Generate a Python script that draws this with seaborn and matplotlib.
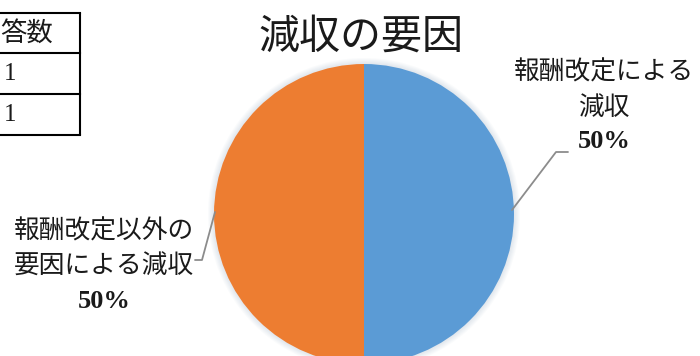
import matplotlib
matplotlib.use("Agg")
import matplotlib.pyplot as plt
import seaborn as sns
from matplotlib.patches import Circle

sns.set_theme(style="white")
plt.rcParams["font.family"] = ["Noto Sans CJK JP", "DejaVu Sans"]

# Data
title = "減収の要因"
categories = ["報酬改定による\n減収", "報酬改定以外の\n要因による減収"]
counts = [1, 1]
table_header = "答数"
slice_colors = sns.color_palette(["#5B9BD5", "#ED7D31"])

W, H = 700, 356
fig = plt.figure(figsize=(W / 100, H / 100), dpi=100)
ax = fig.add_axes([0, 0, 1, 1])


def Y(y):
    """Convert a top-down pixel row into the axis' bottom-up coordinate."""
    return H - y


cx, cy, r = 364, 214, 150

# soft glow around the pie
for k in range(6, 0, -1):
    ax.add_patch(Circle((cx, Y(cy)), r + k, color="#9fb4c8", alpha=0.05, lw=0, zorder=1))

wedges, _ = ax.pie(
    counts,
    colors=slice_colors,
    startangle=90,
    counterclock=False,
    center=(cx, Y(cy)),
    radius=r,
    wedgeprops=dict(linewidth=0),
    frame=True,
)
for w in wedges:
    w.set_zorder(2)

ax.set_xlim(0, W)
ax.set_ylim(0, H)
ax.set_aspect("auto")
ax.axis("off")

# title
ax.text(361, Y(37), title, ha="center", va="center", fontsize=29.5, color="#1a1a1a")

# slice labels: category lines followed by the share in bold
total = sum(counts)
label_specs = [
    dict(x=604, ys=[73, 108, 141]),
    dict(x=104, ys=[232, 267, 301]),
]
for cat, val, spec in zip(categories, counts, label_specs):
    lines = cat.split("\n")
    for line, yy in zip(lines, spec["ys"]):
        ax.text(spec["x"], Y(yy), line, ha="center", va="center", fontsize=18.5, color="#1a1a1a")
    pct = f"{val / total * 100:.0f}%"
    ax.text(spec["x"], Y(spec["ys"][-1]), pct, ha="center", va="center", fontsize=19,
            fontweight="bold", family=["Liberation Serif", "DejaVu Serif"], color="#1a1a1a")

# leader lines
ax.plot([512, 556, 568], [Y(210), Y(152), Y(152)], color="#8c8c8c", lw=1.3, zorder=3)
ax.plot([215, 202, 195], [Y(212), Y(260), Y(260)], color="#8c8c8c", lw=1.3, zorder=3)

# count table in the top-left corner
row_lines = [13, 53, 94, 135]
for yy in row_lines:
    ax.plot([0, 80], [Y(yy), Y(yy)], color="black", lw=1.5, solid_capstyle="projecting")
ax.plot([80, 80], [Y(13), Y(135)], color="black", lw=1.5)
ax.text(0, Y(33), table_header, ha="left", va="center", fontsize=19, color="#1a1a1a")
for val, yy in zip(counts, [74, 115]):
    ax.text(10, Y(yy), str(val), ha="center", va="center", fontsize=18,
            family=["Liberation Serif", "DejaVu Serif"], color="#1a1a1a")

fig.savefig("out.png", dpi=100)
